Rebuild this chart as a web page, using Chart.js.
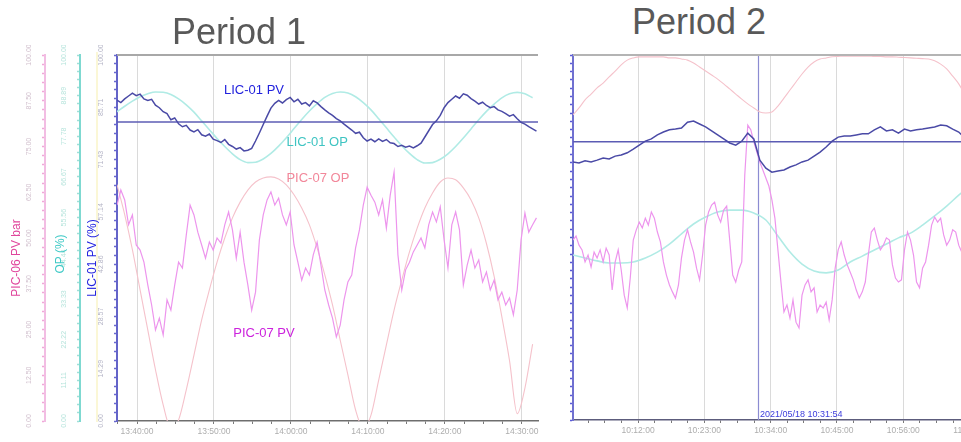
<!DOCTYPE html>
<html>
<head>
<meta charset="utf-8">
<script src="https://cdn.jsdelivr.net/npm/chart.js@4.4.1/dist/chart.umd.min.js"></script>
<style>
  html, body { margin:0; padding:0; background:#ffffff; overflow:hidden; }
  #stage { position:relative; width:961px; height:442px; overflow:hidden; font-family:"Liberation Sans", Arial, sans-serif; }
  #stage canvas { position:absolute; }
  #c1 { left:0; top:45px; }
  #c2 { left:540px; top:45px; }
  .ptitle { position:absolute; font-size:36px; line-height:36px; color:#595959; white-space:nowrap; }
  .atitle { position:absolute; font-size:12px; line-height:12px; white-space:nowrap; transform:translate(-50%,-50%) rotate(-90deg); }
  #yel { position:absolute; left:96px; top:52px; width:2px; height:370px; background:#fbf7d6; }
</style>
</head>
<body>
<div id="stage">
  <div id="yel"></div>
  <canvas id="c1" width="545" height="397"></canvas>
  <canvas id="c2" width="460" height="397"></canvas>
  <div class="ptitle" style="left:172px; top:14px;">Period 1</div>
  <div class="ptitle" style="left:632px; top:4px;">Period 2</div>
  <div class="atitle" style="left:16px; top:258px; color:#e0469c;">PIC-06 PV bar</div>
  <div class="atitle" style="left:60px; top:254px; color:#3ec9c6;">OP (%)</div>
  <div class="atitle" style="left:92px; top:258px; color:#2222e0;">LIC-01 PV (%)</div>
</div>
<script>
// ---------------- DATA ----------------
// Period 1 (time in minutes from the left edge of the trend)
const p1TimeMax = 54.7;
const p1FastStep = 0.5;   // minutes between samples of the noisy tags
const p1SlowStep = 1;     // minutes between samples of the smooth tags
const p1TickLabels = ['13:40:00', '13:50:00', '14:00:00', '14:10:00', '14:20:00', '14:30:00'];
const p1FirstMajor = 2.6, p1MajorStep = 10;

const p1LicPv = [87.7,87.0,88.0,88.8,89.6,88.9,89.3,88.0,87.6,87.9,
 86.3,85.6,84.5,84.0,82.3,82.8,81.2,80.4,80.8,79.5,
 79.0,79.6,78.2,77.8,78.4,77.0,76.6,76.1,76.9,75.6,
 75.0,74.3,74.7,73.8,74.0,74.5,76.5,78.7,81.0,83.3,
 85.5,86.8,87.6,86.9,87.8,88.4,87.2,87.9,86.6,87.0,
 86.1,87.5,86.9,85.9,85.0,84.2,83.5,82.6,82.0,81.1,
 80.3,79.5,78.6,78.9,77.4,76.5,77.0,76.3,77.1,76.4,
 76.9,76.0,75.8,75.0,75.3,74.8,75.1,74.6,75.2,75.9,
 77.6,79.3,81.0,82.0,83.5,85.6,87.0,87.9,88.8,88.2,
 89.4,89.0,88.1,87.4,86.6,87.1,86.2,85.6,85.9,85.0,
 84.6,84.0,83.3,83.7,82.6,81.6,81.1,80.4,79.8,79.2];
const p1LicSp = 81.7;
const p1LicOp = [84.5,86.0,87.4,88.6,89.4,89.9,89.8,89.2,88.0,86.4,
 84.4,82.0,79.6,77.2,75.0,73.0,71.4,70.6,70.7,71.6,
 73.1,75.1,77.4,79.9,82.4,84.7,86.7,88.4,89.5,89.9,
 89.6,88.6,87.0,85.0,82.6,80.1,77.6,75.2,73.1,71.4,
 70.5,70.6,71.5,73.0,75.0,77.3,79.8,82.3,84.6,86.6,
 88.3,89.4,89.8,89.4,88.3];
const p1PicOp = [64.6,56.4,46.8,35.8,24.9,14.0,4.4,-2.0,0.3,8.5,
 18.0,27.6,35.8,43.4,50.0,55.5,59.8,63.1,65.3,66.4,
 66.7,66.1,64.5,61.8,58.2,53.6,47.3,39.9,31.7,22.1,
 12.6,3.0,-2.0,1.6,11.2,20.8,30.3,38.5,46.2,52.7,
 58.2,62.3,65.3,66.4,65.9,63.7,60.4,55.5,48.5,39.5,
 28.5,16.5,2.0,9.0,21.0];
const p1PicPv = [59.0,63.1,60.4,53.6,56.3,48.1,46.7,43.4,37.2,31.7,
 24.9,28.1,23.5,33.1,30.3,37.2,43.4,41.8,50.8,59.0,
 56.3,51.6,48.1,44.5,48.9,46.7,50.0,48.6,53.6,57.1,
 52.2,44.5,51.6,43.4,37.2,30.3,35.2,49.5,56.3,60.4,
 62.6,59.0,60.9,56.3,53.6,57.1,48.1,43.4,38.5,41.8,
 39.9,45.4,48.9,42.6,35.8,31.7,28.1,23.0,26.2,33.1,
 38.0,39.9,47.3,52.2,59.0,63.9,61.7,59.8,56.3,60.4,
 52.7,61.7,68.0,45.4,35.8,41.3,43.4,46.2,48.1,50.0,
 47.3,53.6,57.1,54.4,58.5,49.5,41.8,53.6,57.1,52.2,
 37.2,42.6,46.7,41.8,44.0,38.0,40.7,35.8,38.5,33.1,
 35.2,31.7,33.6,29.0,35.8,49.5,56.8,51.6,53.6,55.5];

// Period 2
const p2TimeMax = 66.7;
const p2FastStep = 0.5, p2SlowStep = 1, p2OpStep = 2;
const p2TickLabels = ['10:12:00', '10:23:00', '10:34:00', '10:45:00', '10:56:00', '11:07:00'];
const p2FirstMajor = 10.8, p2MajorStep = 11;
const p2CursorTime = 30.7;
const p2CursorLabel = '2021/05/18 10:31:54';

const p2LicPv = [70.7,70.4,71.0,70.7,71.2,71.8,71.5,72.3,72.6,73.2,
 74.2,75.3,76.4,77.0,78.1,78.9,79.5,79.7,80.0,81.6,
 81.9,81.1,80.3,79.2,78.1,77.0,75.9,75.3,76.4,78.6,
 77.0,71.2,69.0,67.9,68.2,68.5,69.3,69.9,70.7,71.2,
 72.3,73.4,74.8,76.4,77.5,77.8,77.8,78.1,78.4,78.4,
 79.5,80.3,79.2,79.5,78.6,79.7,79.2,79.5,79.7,80.0,
 80.3,80.8,80.6,79.7,78.9,77.3,76.2];
const p2LicSp = 76.2;
const p2LicOp = [45.2,44.4,43.6,43.0,43.0,43.3,44.4,46.0,48.2,51.0,
 53.7,55.6,57.0,57.5,57.5,56.7,54.8,50.4,46.0,42.7,
 40.8,40.3,41.1,43.3,44.9,46.6,48.2,49.9,51.2,53.4,
 55.9,58.6,61.6,64.4];
const p2PicOp = [83.6,85.5,87.7,89.3,91.0,92.3,94.0,95.6,97.3,98.6,
 99.2,99.5,99.5,99.5,99.5,99.5,99.2,99.2,98.9,98.6,
 97.8,96.7,95.6,94.5,93.4,92.1,90.7,89.3,87.9,86.6,
 85.5,84.4,84.1,84.4,86.0,88.2,90.4,92.6,94.8,96.7,
 98.1,98.9,99.2,
 99.5,99.6,99.7,99.7,99.7,99.7,99.7,99.6,99.6,99.5,99.5,99.4,99.3,99.2,99.1,
 99.0,98.9,98.4,97.5,96.2,94.2,92.1,89.3,86.6];
const p2PicPv = [49.3,50.4,47.9,46.6,43.3,45.2,41.9,46.0,44.4,46.6,
 43.3,47.1,45.2,35.6,43.3,46.6,41.1,34.2,30.7,38.9,
 49.3,52.1,54.2,52.6,55.3,53.4,57.0,55.3,51.5,48.8,
 43.3,39.7,37.0,35.1,33.4,37.0,44.4,49.3,52.1,48.8,
 46.0,41.6,38.4,45.2,53.4,57.0,58.9,59.7,56.2,54.2,
 57.5,58.6,49.3,39.7,37.8,41.1,43.3,67.1,80.8,79.5,
 76.2,73.4,70.7,68.5,66.3,64.1,60.3,55.3,46.6,37.8,
 29.6,31.5,27.9,32.9,26.8,25.2,34.2,37.0,38.4,35.1,
 36.2,29.6,31.5,30.7,32.3,27.4,32.9,41.6,46.6,48.8,
 45.2,42.5,40.5,38.4,35.6,33.4,35.1,37.8,45.2,51.5,
 52.6,49.3,46.6,47.9,49.9,49.3,42.5,38.9,37.8,38.4,
 46.6,51.5,49.3,45.2,37.8,36.2,41.6,43.3,47.9,53.4,
 55.6,54.2,55.3,50.7,47.9,49.3,52.1,51.5,47.9,46.0,
 49.3,50.7,47.9,46.6];

// Tag names shown on the Period 1 trend
const p1TagTexts = ['LIC-01 PV', 'LIC-01 OP', 'PIC-07 OP', 'PIC-07 PV'];
const p1TagTimes = [17.8, 26.0, 26.1, 19.1];
const p1TagValues = [90.4, 76.0, 66.4, 24.0];

// ---------------- HELPERS ----------------
const FONT = '"Liberation Sans", Arial, sans-serif';
Chart.defaults.font.family = FONT;
Chart.defaults.animation = false;

const C = {
  licPv: '#4a4aa6', licSp: '#5c5cb4', licOp: '#b0ebe5', picOp: '#f5c2cb', picPv: '#ed95ed',
  tagPv: '#2222dd', tagOp: '#3fc4c2', tagPicOp: '#f2879a', tagPicPv: '#cc22dd'
};
const p1TagColors = [C.tagPv, C.tagOp, C.tagPicOp, C.tagPicPv];

function toPoints(values, step) { return values.map((v, i) => ({ x: i * step, y: v })); }
function flatLine(v, tMax) { return [{ x: 0, y: v }, { x: tMax, y: v }]; }

function timeTicks(firstMajor, majorStep, perMajor, tMax, labels) {
  const minor = majorStep / perMajor;
  let start = firstMajor;
  while (start - minor >= -1e-9) start -= minor;
  const out = [];
  for (let k = 0; ; k++) {
    const t = start + k * minor;
    if (t > tMax + 1e-9) break;
    const rel = (t - firstMajor) / majorStep;
    const isMajor = rel > -1e-6 && Math.abs(rel - Math.round(rel)) < 1e-6;
    out.push({ value: t, isMajor, lab: isMajor ? (labels[Math.round(rel)] || '') : '' });
  }
  return out;
}
function valueTicks(n, every) {
  const out = [];
  for (let k = 0; k <= n; k++) out.push({ value: 100 * k / n, showLab: k % every === 0 });
  return out;
}

function xAxis(ticksArr, tMax, height, borderColor) {
  return {
    type: 'linear', min: 0, max: tMax,
    afterBuildTicks: s => { s.ticks = ticksArr.map(t => ({ ...t })); },
    afterFit: s => { s.height = height; },
    ticks: {
      autoSkip: false, maxRotation: 0, minRotation: 0, padding: 3,
      color: '#adadad', font: { size: 8.5 },
      callback: (v, i, arr) => arr[i].lab
    },
    grid: {
      drawOnChartArea: true, drawTicks: true, tickLength: 3,
      color: ctx => (ctx.tick && ctx.tick.isMajor) ? '#dadada' : 'rgba(0,0,0,0)',
      tickColor: '#7a7a7a', lineWidth: 1
    },
    border: { display: true, color: borderColor, width: 1.5 }
  };
}

function yAxis(opt) {
  const tk = valueTicks(opt.n, opt.every);
  return {
    type: 'linear', position: 'left', weight: opt.weight, min: 0, max: 100,
    display: true,
    afterBuildTicks: s => { s.ticks = tk.map(t => ({ ...t })); },
    afterFit: s => { s.width = opt.width; },
    ticks: {
      display: opt.showLabels, autoSkip: false, minRotation: 90, maxRotation: 90,
      crossAlign: 'center', padding: 2,
      color: opt.labelColor, font: { size: 7 },
      callback: (v, i, arr) => arr[i].showLab ? v.toFixed(2) : ''
    },
    grid: { drawOnChartArea: false, drawTicks: true, tickLength: 3, tickColor: opt.tickColor, tickWidth: 1.5 },
    border: { display: true, color: opt.borderColor, width: 2 }
  };
}

function overlayPlugin(cfg) {
  return {
    id: 'overlay' + cfg.name,
    beforeDatasetsDraw(chart) {
      const { ctx, chartArea } = chart;
      if (cfg.cursorTime !== undefined) {
        const x = Math.round(chart.scales.x.getPixelForValue(cfg.cursorTime)) + 0.5;
        ctx.save();
        ctx.strokeStyle = '#8c8cd2'; ctx.lineWidth = 1.2;
        ctx.beginPath(); ctx.moveTo(x, chartArea.top); ctx.lineTo(x, chartArea.bottom); ctx.stroke();
        ctx.restore();
      }
    },
    afterDatasetsDraw(chart) {
      const { ctx, chartArea } = chart;
      ctx.save();
      ctx.strokeStyle = cfg.frameColor; ctx.lineWidth = 2;
      ctx.beginPath(); ctx.moveTo(chartArea.left, chartArea.top); ctx.lineTo(chartArea.right, chartArea.top); ctx.stroke();
      (cfg.tags || []).forEach(tg => {
        ctx.font = '13px ' + FONT; ctx.fillStyle = tg.color;
        ctx.textAlign = 'center'; ctx.textBaseline = 'middle';
        ctx.fillText(tg.text, chart.scales.x.getPixelForValue(tg.t), chart.scales[tg.axis].getPixelForValue(tg.v));
      });
      if (cfg.cursorTime !== undefined) {
        const x = chart.scales.x.getPixelForValue(cfg.cursorTime);
        ctx.font = '9px ' + FONT; ctx.fillStyle = '#3c3cdc';
        ctx.textAlign = 'left'; ctx.textBaseline = 'alphabetic';
        ctx.fillText(cfg.cursorLabel, x + 2, chartArea.bottom - 3);
      }
      ctx.restore();
    }
  };
}

function lineDs(label, data, color, width, axis, smooth) {
  return {
    label, data, borderColor: color, borderWidth: width, yAxisID: axis,
    pointRadius: 0, fill: false,
    tension: smooth ? 0.4 : 0, cubicInterpolationMode: smooth ? 'monotone' : 'default'
  };
}

// ---------------- PERIOD 1 ----------------
const p1Ticks = timeTicks(p1FirstMajor, p1MajorStep, 4, p1TimeMax, p1TickLabels);
const p1Tags = p1TagTexts.map((text, i) => ({
  text, t: p1TagTimes[i], v: p1TagValues[i], color: p1TagColors[i],
  axis: i === 0 ? 'y' : (i === 3 ? 'yPic' : 'yOp')
}));

new Chart(document.getElementById('c1'), {
  type: 'line',
  data: {
    datasets: [
      lineDs('LIC-01 PV', toPoints(p1LicPv, p1FastStep), C.licPv, 1.5, 'y', false),
      lineDs('LIC-01 SP', flatLine(p1LicSp, p1TimeMax), C.licSp, 1.6, 'y', false),
      lineDs('PIC-07 PV', toPoints(p1PicPv, p1FastStep), C.picPv, 1.2, 'yPic', false),
      lineDs('LIC-01 OP', toPoints(p1LicOp, p1SlowStep), C.licOp, 1.6, 'yOp', true),
      lineDs('PIC-07 OP', toPoints(p1PicOp, p1SlowStep), C.picOp, 1.1, 'yOp', true)
    ]
  },
  options: {
    responsive: false, maintainAspectRatio: false, devicePixelRatio: 1, animation: false,
    layout: { padding: { left: 0, right: 7, top: 10, bottom: 0 } },
    plugins: { legend: { display: false }, tooltip: { enabled: false } },
    scales: {
      x: xAxis(p1Ticks, p1TimeMax, 21, '#6e6e6e'),
      y: yAxis({ weight: 0, width: 37, n: 42, every: 6, showLabels: true, labelColor: '#b4b4c6', tickColor: '#6a6ad0', borderColor: '#6464c8' }),
      yOp: yAxis({ weight: 1, width: 35, n: 45, every: 5, showLabels: true, labelColor: '#b6e4dc', tickColor: '#9ee0d8', borderColor: '#7fd9d1' }),
      yPic: yAxis({ weight: 2, width: 45, n: 40, every: 5, showLabels: true, labelColor: '#d2c0ce', tickColor: '#f0a8d8', borderColor: '#f2bde3' })
    }
  },
  plugins: [overlayPlugin({ name: 'p1', frameColor: '#a8a8a8', tags: p1Tags })]
});

// ---------------- PERIOD 2 ----------------
const p2Ticks = timeTicks(p2FirstMajor, p2MajorStep, 4, p2TimeMax, p2TickLabels);

new Chart(document.getElementById('c2'), {
  type: 'line',
  data: {
    datasets: [
      lineDs('LIC-01 PV', toPoints(p2LicPv, p2SlowStep), C.licPv, 1.5, 'y', false),
      lineDs('LIC-01 SP', flatLine(p2LicSp, p2TimeMax), C.licSp, 1.5, 'y', false),
      lineDs('PIC-07 PV', toPoints(p2PicPv, p2FastStep), C.picPv, 1.2, 'y', false),
      lineDs('LIC-01 OP', toPoints(p2LicOp, p2OpStep), C.licOp, 1.6, 'y', true),
      lineDs('PIC-07 OP', toPoints(p2PicOp, p2SlowStep), C.picOp, 1.1, 'y', true)
    ]
  },
  options: {
    responsive: false, maintainAspectRatio: false, devicePixelRatio: 1, animation: false,
    layout: { padding: { left: 0, right: 25, top: 10, bottom: 0 } },
    plugins: { legend: { display: false }, tooltip: { enabled: false } },
    scales: {
      x: xAxis(p2Ticks, p2TimeMax, 22, '#5c5c7c'),
      y: yAxis({ weight: 0, width: 33, n: 44, every: 1000, showLabels: false, labelColor: '#ffffff', tickColor: '#5a5ad8', borderColor: '#7070d0' })
    }
  },
  plugins: [overlayPlugin({ name: 'p2', frameColor: '#b4b4b4', cursorTime: p2CursorTime, cursorLabel: p2CursorLabel })]
});
</script>
</body>
</html>
